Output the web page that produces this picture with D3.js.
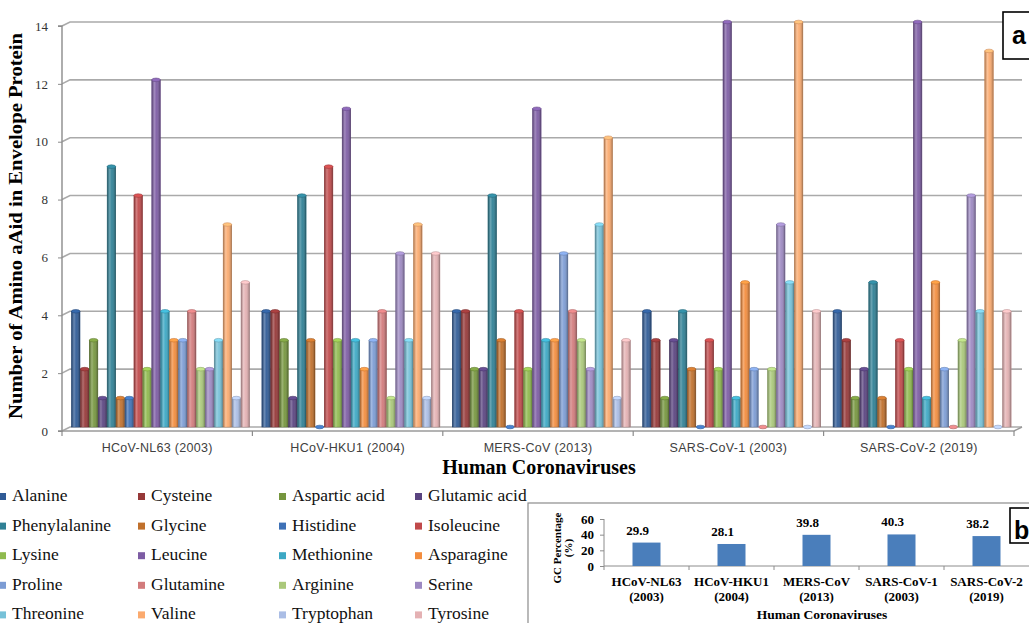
<!DOCTYPE html>
<html>
<head>
<meta charset="utf-8">
<script src="https://cdn.jsdelivr.net/npm/d3@7"></script>
<style>
html,body{margin:0;padding:0;background:#fff;}
svg{display:block;}
</style>
</head>
<body>
<svg id="chart" width="1029" height="623"></svg>
<script>
// ---------- DATA ----------
const viruses = ["HCoV-NL63 (2003)", "HCoV-HKU1 (2004)", "MERS-CoV (2013)", "SARS-CoV-1 (2003)", "SARS-CoV-2 (2019)"];
const aminoAcids = ["Alanine","Cysteine","Aspartic acid","Glutamic acid","Phenylalanine","Glycine","Histidine","Isoleucine","Lysine","Leucine","Methionine","Asparagine","Proline","Glutamine","Arginine","Serine","Threonine","Valine","Tryptophan","Tyrosine"];
const countsNL63  = [4,2,3,1,9,1,1,8,2,12,4,3,3,4,2,2,3,7,1,5];
const countsHKU1  = [4,4,3,1,8,3,0,9,3,11,3,2,3,4,1,6,3,7,1,6];
const countsMERS  = [4,4,2,2,8,3,0,4,2,11,3,3,6,4,3,2,7,10,1,3];
const countsSARS1 = [4,3,1,3,4,2,0,3,2,14,1,5,2,0,2,7,5,14,0,4];
const countsSARS2 = [4,3,1,2,5,1,0,3,2,14,1,5,2,0,3,8,4,13,0,4];
const yTicks = [0,2,4,6,8,10,12,14];

const gcViruses = [["HCoV-NL63","(2003)"],["HCoV-HKU1","(2004)"],["MERS-CoV","(2013)"],["SARS-CoV-1","(2003)"],["SARS-CoV-2","(2019)"]];
const gcValues = [29.9, 28.1, 39.8, 40.3, 38.2];
const gcTicks = [0,20,40,60];

const colors = ["#2f5b96","#963838","#76963e","#5a4480","#2f8095","#c0702c",
                "#3e71b6","#c0494a","#8fba4e","#7d5ca4","#3ca8c4","#f38d3e",
                "#7c9cd4","#d27b7c","#aac87a","#9d89c2","#76c1d8","#fbaa6e",
                "#aabde5","#e4b1b3"];

const allCounts = [countsNL63, countsHKU1, countsMERS, countsSARS1, countsSARS2];
const data = [];
viruses.forEach((v,gi)=>aminoAcids.forEach((a,ai)=>data.push({virus:v, acid:a, idx:ai, value:allCounts[gi][ai]})));

// ---------- SETUP ----------
const svg = d3.select("#chart");
const defs = svg.append("defs");
const grad = defs.append("linearGradient").attr("id","cyl").attr("x1","0").attr("x2","1").attr("y1","0").attr("y2","0");
[[0,"#000",0.28],[0.3,"#fff",0.28],[0.55,"#fff",0.06],[1,"#000",0.32]].forEach(s=>
  grad.append("stop").attr("offset",s[0]).attr("stop-color",s[1]).attr("stop-opacity",s[2]));

const serif = "'Liberation Serif','Times New Roman',serif";
const depthX = 8, depthY = 4;
const axisX = 62, rightX = 1014;
const yBack = d3.scaleLinear().domain([0,14]).range([427,22]);
const yFront = d3.scaleLinear().domain([0,14]).range([427+depthY,22+depthY]);
const xGroup = d3.scaleBand().domain(viruses).range([axisX, rightX]).padding(0);
const xInner = d3.scaleBand().domain(aminoAcids).range([9.5, 187.5]).paddingInner(0.05);

// gridlines (back wall) with slanted side
const grid = svg.append("g");
yTicks.forEach(t=>{
  grid.append("path")
    .attr("d", `M${axisX},${yFront(t)} L${axisX+depthX},${yBack(t)} L${rightX+depthX},${yBack(t)}`)
    .attr("fill","none").attr("stroke","#aaaaaa").attr("stroke-width",1.6);
});
// floor
svg.append("path")
  .attr("d", `M${axisX},${yFront(0)} L${rightX},${yFront(0)} L${rightX+depthX},${yBack(0)}`)
  .attr("fill","none").attr("stroke","#9a9a9a").attr("stroke-width",1.4);

// left axis
const yAxis = d3.axisLeft(yFront).tickValues(yTicks).tickSize(4).tickPadding(10).tickFormat(d3.format("d"));
const gy = svg.append("g").attr("transform",`translate(${axisX},0)`).call(yAxis);
gy.attr("font-family",serif);
gy.select(".domain").attr("stroke","#8c8c8c").attr("stroke-width",1.4).attr("d",`M-4,${yFront(14)}H0V${yFront(0)}H-4`);
gy.selectAll(".tick line").attr("stroke","#8c8c8c");
gy.selectAll("text").attr("font-family",serif).attr("font-size",13).attr("fill","#333");

// bottom axis
const xAxis = d3.axisBottom(xGroup).tickSize(0).tickPadding(12);
const gx = svg.append("g").attr("transform",`translate(0,${yFront(0)})`).call(xAxis);
gx.select(".domain").remove();
gx.selectAll("text").attr("font-family","'Liberation Sans',Arial,sans-serif").attr("font-size",12.5).attr("fill","#404040").attr("letter-spacing","0.3px");
const bounds = viruses.map(v=>xGroup(v)).concat([rightX]);
svg.append("g").selectAll("line").data(bounds).join("line")
  .attr("x1",d=>d).attr("x2",d=>d).attr("y1",yFront(0)).attr("y2",yFront(0)+5)
  .attr("stroke","#8c8c8c").attr("stroke-width",1.2);

// bars
const bw = xInner.bandwidth();
const capR = 1.8;
const bars = svg.append("g").selectAll("g").data(data).join("g")
  .attr("transform",d=>`translate(${xGroup(d.virus)+xInner(d.acid)},0)`);
bars.filter(d=>d.value>0).append("rect")
  .attr("x",0).attr("width",bw)
  .attr("y",d=>yBack(d.value)).attr("height",d=>yBack(0)-yBack(d.value))
  .attr("fill",d=>colors[d.idx])
  .attr("stroke",d=>d3.color(colors[d.idx]).darker(0.6)).attr("stroke-width",0.6);
bars.filter(d=>d.value>0).append("rect")
  .attr("x",0).attr("width",bw)
  .attr("y",d=>yBack(d.value)).attr("height",d=>yBack(0)-yBack(d.value))
  .attr("fill","url(#cyl)");
bars.append("ellipse")
  .attr("cx",bw/2).attr("cy",d=>yBack(d.value)).attr("rx",bw/2).attr("ry",capR)
  .attr("fill",d=>d3.color(colors[d.idx]).brighter(0.4))
  .attr("stroke",d=>d3.color(colors[d.idx]).darker(0.5)).attr("stroke-width",0.6);

// axis titles
svg.append("text")
  .attr("transform","translate(22,226) rotate(-90)")
  .attr("text-anchor","middle")
  .attr("font-family",serif).attr("font-weight","bold")
  .attr("font-size",19).attr("textLength",386).attr("lengthAdjust","spacingAndGlyphs")
  .text("Number of Amino aAid in Envelope Protein");
svg.append("text")
  .attr("x",539).attr("y",474).attr("text-anchor","middle")
  .attr("font-family",serif).attr("font-weight","bold")
  .attr("font-size",20).text("Human Coronaviruses");

// label a
svg.append("rect").attr("x",1003).attr("y",12).attr("width",40).attr("height",47)
  .attr("fill","#fff").attr("stroke","#000").attr("stroke-width",1.6);
svg.append("text").attr("x",1012).attr("y",44)
  .attr("font-family","'Liberation Sans',Arial,sans-serif").attr("font-weight","bold").attr("font-size",25).text("a");

// legend
const legend = svg.append("g").attr("font-family",serif).selectAll("g").data(aminoAcids).join("g")
  .attr("transform",(d,i)=>`translate(${[0,139,280,416][i%4]},${501 + Math.floor(i/4)*29.6})`);
legend.append("rect").attr("x",-1).attr("y",-8).attr("width",7).attr("height",7)
  .attr("fill",(d,i)=>colors[i]);
legend.append("text").attr("x",12).attr("y",0)
  .attr("font-family",serif).attr("font-size",17.5).attr("fill","#111")
  .text(d=>d);

// ---------- INSET (b) ----------
const inset = svg.append("g");
inset.append("rect").attr("x",528).attr("y",503).attr("width",520).attr("height",140)
  .attr("fill","#fff").attr("stroke","#8c8c8c").attr("stroke-width",1.2);
const gcX = d3.scaleBand().domain(gcViruses.map(d=>d[0])).range([604, 1029]).paddingInner(0).paddingOuter(0);
const gcY = d3.scaleLinear().domain([0,60]).range([566,519]);

const gAy = inset.append("g").attr("transform","translate(604,0)")
  .call(d3.axisLeft(gcY).tickValues(gcTicks).tickSize(4).tickPadding(6));
gAy.select(".domain").attr("stroke","#8c8c8c").attr("d",`M0,${gcY(60)}V${gcY(0)}`);
gAy.selectAll(".tick line").attr("stroke","#8c8c8c");
gAy.selectAll("text").attr("font-family",serif).attr("font-weight","bold").attr("font-size",13).attr("fill","#000");

inset.append("line").attr("x1",604).attr("x2",1029).attr("y1",gcY(0)).attr("y2",gcY(0)).attr("stroke","#8c8c8c");
inset.append("g").selectAll("line").data(gcViruses.map(d=>gcX(d[0]))).join("line")
  .attr("x1",d=>d).attr("x2",d=>d).attr("y1",gcY(0)).attr("y2",gcY(0)+4).attr("stroke","#8c8c8c");

const gcBarW = 28;
inset.append("g").selectAll("rect").data(gcValues).join("rect")
  .attr("x",(d,i)=>gcX(gcViruses[i][0])+gcX.bandwidth()/2-gcBarW/2)
  .attr("width",gcBarW)
  .attr("y",d=>gcY(d)).attr("height",d=>gcY(0)-gcY(d))
  .attr("fill","#4a7ebb");
inset.append("g").selectAll("text").data(gcValues).join("text")
  .attr("x",(d,i)=>gcX(gcViruses[i][0])+gcX.bandwidth()/2-9)
  .attr("y",d=>gcY(d)-8).attr("text-anchor","middle")
  .attr("font-family",serif).attr("font-weight","bold").attr("font-size",13).text(d=>d.toFixed(1));
const cl = inset.append("g").selectAll("text").data(gcViruses).join("text")
  .attr("text-anchor","middle").attr("font-family",serif).attr("font-weight","bold").attr("font-size",13);
cl.append("tspan").attr("x",d=>gcX(d[0])+gcX.bandwidth()/2).attr("y",586).text(d=>d[0]);
cl.append("tspan").attr("x",d=>gcX(d[0])+gcX.bandwidth()/2).attr("y",601).text(d=>d[1]);
inset.append("text").attr("x",822).attr("y",619).attr("text-anchor","middle")
  .attr("font-family",serif).attr("font-weight","bold").attr("font-size",13.5).text("Human Coronaviruses");
const gt = inset.append("text").attr("transform","translate(561,548) rotate(-90)")
  .attr("text-anchor","middle").attr("font-family",serif).attr("font-weight","bold").attr("font-size",11);
gt.append("tspan").attr("x",0).attr("y",0).text("GC Percentage");
gt.append("tspan").attr("x",0).attr("y",11).text("(%)");

inset.append("rect").attr("x",1010).attr("y",508).attr("width",30).attr("height",35)
  .attr("fill","#fff").attr("stroke","#000").attr("stroke-width",1.6);
inset.append("text").attr("x",1014).attr("y",539)
  .attr("font-family","'Liberation Sans',Arial,sans-serif").attr("font-weight","bold").attr("font-size",25).text("b");
</script>
</body>
</html>
